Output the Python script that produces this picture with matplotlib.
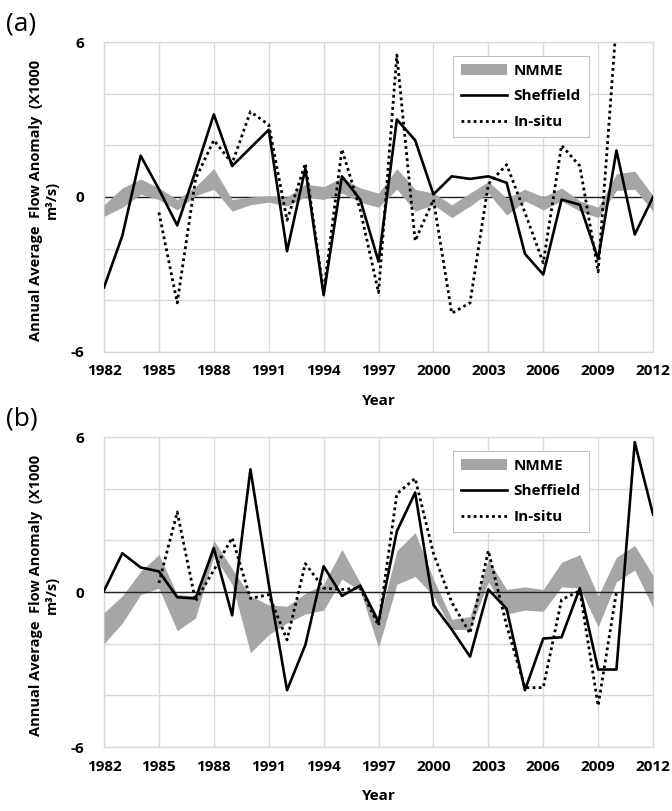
import numpy as np
import matplotlib
matplotlib.use("Agg")
import matplotlib.pyplot as plt
from matplotlib.patches import Patch
from matplotlib.lines import Line2D

plt.rcParams['font.family'] = ['Open Sans', 'DejaVu Sans']

years = np.arange(1982, 2013)
nan = np.nan

## panel (a)
nmme_a_hi = [-0.3, 0.35, 0.7, 0.35, -0.1, 0.4, 1.1, -0.1, 0.0, 0.05, 0.0, 0.5, 0.4, 0.75, 0.35, 0.15,
             1.1, 0.3, 0.15, -0.3, 0.15, 0.6, -0.05, 0.3, 0.0, 0.35, -0.15, -0.4, 0.9, 1.0, 0.05]
nmme_a_lo = [-0.75, -0.4, 0.1, -0.1, -0.5, 0.05, 0.3, -0.55, -0.3, -0.2, -0.35, 0.0, -0.1, 0.15, -0.2, -0.4,
             0.3, -0.55, -0.3, -0.8, -0.35, 0.15, -0.7, -0.15, -0.5, -0.15, -0.55, -0.8, 0.25, 0.3, -0.55]
sheff_a = [-3.5, -1.5, 1.6, 0.3, -1.1, 1.0, 3.2, 1.2, 1.9, 2.6, -2.1, 1.1, -3.8, 0.8, -0.1, -2.5,
           3.0, 2.2, 0.1, 0.8, 0.7, 0.8, 0.55, -2.2, -3.0, -0.1, -0.3, -2.4, 1.8, -1.45, 0.0]
insitu_a = [nan, nan, nan, -0.6, -4.1, 0.7, 2.2, 1.3, 3.3, 2.8, -0.9, 1.3, -3.7, 1.85, -0.5, -3.7,
            5.5, -1.7, -0.1, -4.5, -4.1, 0.5, 1.25, -0.6, -2.55, 2.0, 1.2, -2.9, 6.8, nan, nan]

## panel (b)
nmme_b_hi = [-0.8, -0.15, 0.8, 1.45, -0.1, -0.15, 2.0, 0.9, -0.15, -0.5, -0.55, -0.05, 0.3, 1.65, 0.35, -1.2,
             1.6, 2.3, 0.5, -1.05, -0.95, 1.25, 0.1, 0.2, 0.1, 1.15, 1.45, -0.15, 1.35, 1.8, 0.65]
nmme_b_lo = [-2.0, -1.2, -0.1, 0.15, -1.5, -1.0, 1.4, 0.3, -2.35, -1.65, -1.2, -0.85, -0.7, 0.5, 0.05, -2.15,
             0.3, 0.6, -0.15, -1.45, -1.45, 0.4, -0.85, -0.7, -0.75, 0.2, 0.15, -1.35, 0.4, 0.85, -0.6]
sheff_b = [0.05, 1.5, 0.95, 0.8, -0.2, -0.25, 1.7, -0.9, 4.75, 0.3, -3.8, -2.05, 1.0, -0.15, 0.25, -1.15,
           2.35, 3.85, -0.5, -1.45, -2.5, 0.1, -0.65, -3.8, -1.8, -1.75, 0.15, -3.0, -3.0, 5.8, 3.0]
insitu_b = [nan, nan, nan, 0.35, 3.1, -0.35, 0.85, 2.1, -0.25, -0.1, -1.85, 1.1, 0.15, 0.1, 0.15, -1.3,
            3.8, 4.4, 1.5, -0.4, -1.6, 1.6, -1.3, -3.7, -3.7, -0.3, 0.05, -4.4, 0.0, nan, nan]

xticks = np.arange(1982, 2013, 3)
yticks = [-6, -4, -2, 0, 2, 4, 6]
ylabels = ['-6', '', '', '0', '', '', '6']
band_color = '#a6a6a6'
grid_color = '#d9d9d9'


def draw_panel(ax, lo, hi, sheff, insitu, zero_on_top):
    ax.fill_between(years, lo, hi, color=band_color, lw=0, zorder=3)
    ax.axhline(0, color='#222222', lw=1.0, zorder=4 if zero_on_top else 2)
    ax.plot(years, insitu, color='black', lw=2.0, linestyle=(0, (1, 1.2)), zorder=5)
    ax.plot(years, sheff, color='black', lw=1.9, zorder=6)
    ax.set_xlim(1982, 2012)
    ax.set_ylim(-6, 6)
    ax.set_xticks(xticks)
    ax.set_yticks(yticks)
    ax.set_yticklabels(ylabels)
    ax.grid(True, color=grid_color, lw=1.0, zorder=0)
    ax.set_axisbelow(True)
    for s in ax.spines.values():
        s.set_color(grid_color)
        s.set_linewidth(1.0)
    ax.tick_params(length=0, labelsize=11)
    ax.tick_params(axis='x', pad=9)
    ax.tick_params(axis='y', pad=14)
    for lab in ax.get_xticklabels() + ax.get_yticklabels():
        lab.set_fontweight('bold')
    ax.set_xlabel('Year', fontsize=11, fontweight='bold', labelpad=11)
    handles = [Patch(facecolor=band_color, edgecolor='none'),
               Line2D([], [], color='black', lw=1.9),
               Line2D([], [], color='black', lw=2.0, linestyle=(0, (1, 1.2)))]
    leg = ax.legend(handles, ['NMME', 'Sheffield', 'In-situ'], loc='upper left',
                    bbox_to_anchor=(0.621, 0.981), fancybox=False, framealpha=1,
                    edgecolor='#bfbfbf', handlelength=3.0, handletextpad=0.45,
                    labelspacing=0.75, borderpad=0.55, prop={'weight': 'bold', 'size': 11})
    leg.get_frame().set_linewidth(0.8)
    leg.set_zorder(10)


fig = plt.figure(figsize=(6.72, 8.11), dpi=100)
ax1 = fig.add_axes([0.1548, 0.566, 0.817, 0.3822])
ax2 = fig.add_axes([0.1548, 0.0789, 0.817, 0.3822])

draw_panel(ax1, nmme_a_lo, nmme_a_hi, sheff_a, insitu_a, False)
draw_panel(ax2, nmme_b_lo, nmme_b_hi, sheff_b, insitu_b, True)

ylab = 'Annual Average  Flow Anomaly  (X1000\nm\u00b3/s)'
fig.text(44 / 672, 1 - 200 / 811, ylab, rotation=90, ha='center', va='center',
         fontsize=10.5, fontweight='bold', linespacing=1.1)
fig.text(44 / 672, 1 - 595 / 811, ylab, rotation=90, ha='center', va='center',
         fontsize=10.5, fontweight='bold', linespacing=1.1)

fig.text(6 / 672, 1 - 24 / 811, '(a)', fontsize=19, ha='left', va='center')
fig.text(6 / 672, 1 - 419 / 811, '(b)', fontsize=19, ha='left', va='center')

fig.savefig('out.png', dpi=100)
